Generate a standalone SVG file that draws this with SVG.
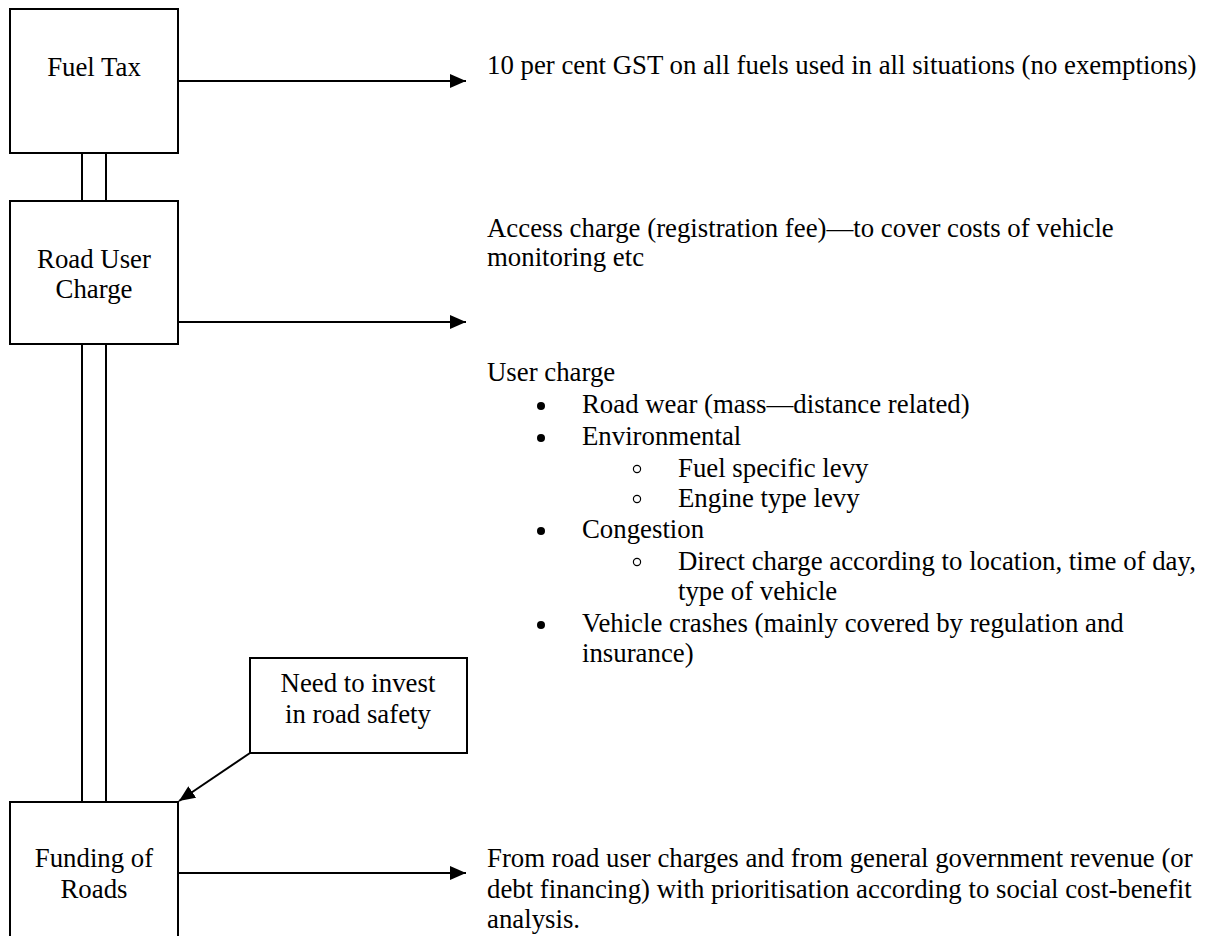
<svg xmlns="http://www.w3.org/2000/svg" width="1207" height="936" viewBox="0 0 1207 936">
<defs>
<style>
.box{fill:#fff;stroke:#000;stroke-width:2}
.ln{fill:none;stroke:#000;stroke-width:2}
.t{font-family:'Liberation Serif','Times New Roman',Times,'DejaVu Serif',serif;font-size:26.8px;fill:#000}
.c{text-anchor:middle}
.dot{fill:#000}
.ring{fill:none;stroke:#000;stroke-width:1.2}
</style>
<marker id="ah" markerUnits="userSpaceOnUse" markerWidth="18" markerHeight="14" refX="16" refY="7" orient="auto">
<path d="M0,0 L16,7 L0,14 Z" fill="#000"/>
</marker>
</defs>
<rect width="1207" height="936" fill="#fff"/>
<g id="connectors">
<line class="ln" x1="82" y1="153" x2="82" y2="201"/>
<line class="ln" x1="106" y1="153" x2="106" y2="201"/>
<line class="ln" x1="82" y1="344" x2="82" y2="802"/>
<line class="ln" x1="106" y1="344" x2="106" y2="802"/>
<line class="ln" x1="178" y1="81" x2="466" y2="81" marker-end="url(#ah)"/>
<line class="ln" x1="178" y1="322" x2="466" y2="322" marker-end="url(#ah)"/>
<line class="ln" x1="178" y1="873" x2="466" y2="873" marker-end="url(#ah)"/>
<line class="ln" x1="250" y1="753" x2="179" y2="801" marker-end="url(#ah)"/>
</g>
<g class="t" font-family="Liberation Serif, Times New Roman, serif">
<g id="fuel-tax">
<rect class="box" x="10" y="9" width="168" height="144"/>
<text class="c" x="94" y="76">Fuel Tax</text>
</g>
<g id="road-user-charge">
<rect class="box" x="10" y="201" width="168" height="143"/>
<text class="c" x="94" y="268">Road User</text>
<text class="c" x="94" y="298">Charge</text>
</g>
<g id="funding-of-roads">
<rect class="box" x="10" y="802" width="168" height="150"/>
<text class="c" x="94" y="867">Funding of</text>
<text class="c" x="94" y="898">Roads</text>
</g>
<g id="road-safety">
<rect class="box" x="250" y="658" width="217" height="95"/>
<text class="c" x="358" y="692">Need to invest</text>
<text class="c" x="358" y="723">in road safety</text>
</g>
<g id="fuel-tax-note">
<text x="487" y="74">10 per cent GST on all fuels used in all situations (no exemptions)</text>
</g>
<g id="road-user-note">
<text x="487" y="237">Access charge (registration fee)—to cover costs of vehicle</text>
<text x="487" y="266">monitoring etc</text>
<text x="487" y="381">User charge</text>
<circle class="dot" cx="541" cy="406" r="4"/>
<text x="582" y="413">Road wear (mass—distance related)</text>
<circle class="dot" cx="541" cy="438" r="4"/>
<text x="582" y="445">Environmental</text>
<circle class="ring" cx="637" cy="469" r="3.6"/>
<text x="678" y="477">Fuel specific levy</text>
<circle class="ring" cx="637" cy="499" r="3.6"/>
<text x="678" y="507">Engine type levy</text>
<circle class="dot" cx="541" cy="531" r="4"/>
<text x="582" y="538">Congestion</text>
<circle class="ring" cx="637" cy="562" r="3.6"/>
<text x="678" y="570">Direct charge according to location, time of day,</text>
<text x="678" y="600">type of vehicle</text>
<circle class="dot" cx="541" cy="625" r="4"/>
<text x="582" y="632">Vehicle crashes (mainly covered by regulation and</text>
<text x="582" y="662">insurance)</text>
</g>
<g id="funding-note">
<text x="487" y="867">From road user charges and from general government revenue (or</text>
<text x="487" y="898">debt financing) with prioritisation according to social cost-benefit</text>
<text x="487" y="928">analysis.</text>
</g>
</g>
</svg>
